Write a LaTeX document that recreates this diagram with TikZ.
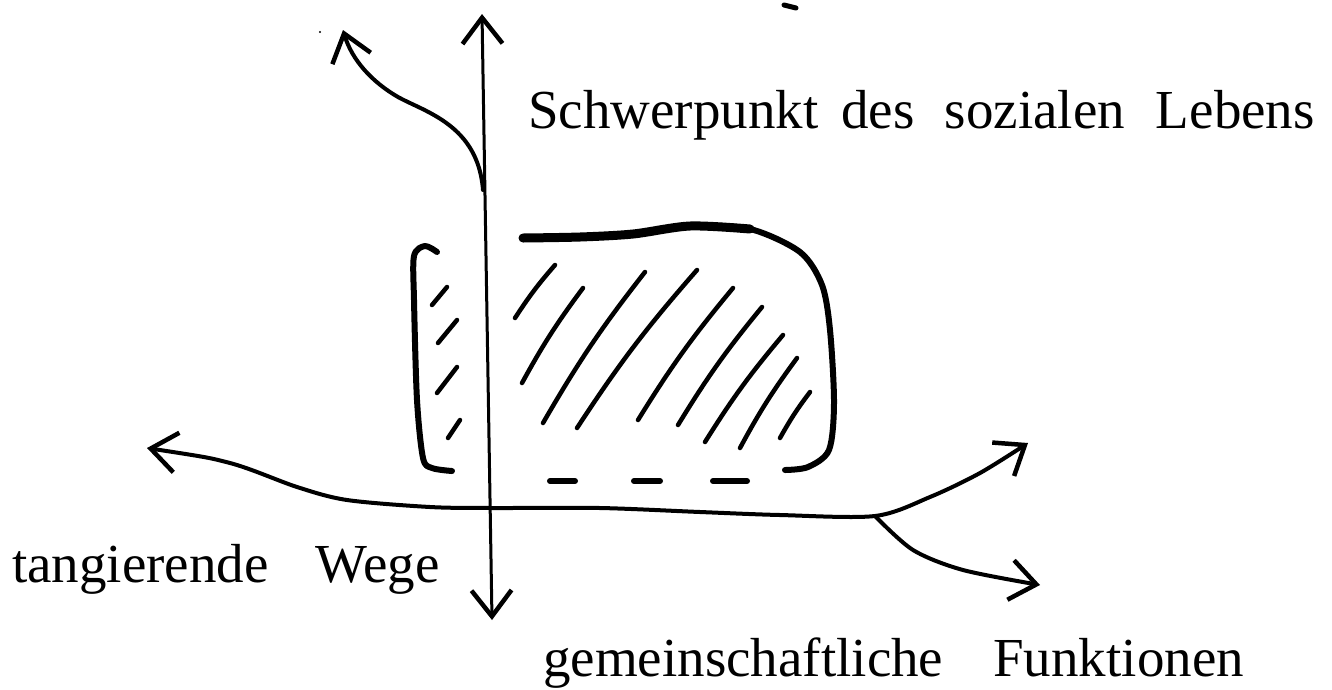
\documentclass[tikz,border=0pt]{standalone}
\usepackage{fontspec}
\setmainfont{Liberation Serif}
\usetikzlibrary{arrows.meta}

\begin{document}
\begin{tikzpicture}[x=1pt,y=-1pt,
    pen/.style={line width=4pt, line cap=round, line join=round},
    barb/.style={-{Straight Barb[length=26pt,width=40pt,line width=4.5pt]}},
    twobarb/.style={{Straight Barb[length=26pt,width=40pt,line width=4.5pt]}-{Straight Barb[length=26pt,width=40pt,line width=4.5pt]}},
    rim/.style={line width=6pt, line cap=round, line join=round},
    hatch/.style={line width=4.5pt, line cap=round},
    word/.style={anchor=base west, inner sep=0pt, font=\fontsize{55}{60}\selectfont}]
    \useasboundingbox (0,0) rectangle (1332,689);

    % axes and ways
    \coordinate (top) at (482,14);
    \coordinate (bottom) at (492,620);
    \coordinate (fork) at (483,190);
    \coordinate (upleft) at (343,30);
    \coordinate (west) at (147,448);
    \coordinate (split) at (875,516);
    \coordinate (east) at (1028,443);
    \coordinate (southeast) at (1040,585);

    \draw[pen, line width=3pt, twobarb] (bottom) -- (top);
    \draw[pen, barb] (fork) .. controls (478,125) and (425,112) .. (398,97)
                            .. controls (372,82) and (352,60) .. (upleft);
    \draw[pen, twobarb]
        plot[smooth] coordinates {(west) (230,463) (297,487) (347,500) (430,507) (492,508)
                                  (600,508) (700,512) (780,515) (split) (930,497) (980,473) (east)};
    \draw[pen, barb] plot[smooth] coordinates {(split) (913,550) (963,570) (southeast)};

    % the hatched field
    \draw[rim] plot[smooth] coordinates {(437,252) (425,246) (414,256) (414,300) (417,400) (423,458) (432,468) (452,471)};
    \draw[rim] plot[smooth] coordinates {(523,238) (580,237) (633,234) (690,226) (750,229) (800,252)
                                  (822,285) (830,330) (834,403) (829,450) (808,467) (785,470)};
    \draw[rim, line width=9pt] plot[smooth] coordinates {(523,238) (580,237) (633,234) (690,226) (750,229)};
    \foreach \a/\b in {550/575, 634/660, 713/747}
        \draw[rim] (\a,481) -- (\b,481);

    \foreach \xa/\ya/\xb/\yb in {432/305/447/287, 438/343/457/320, 437/393/457/367, 448/438/460/420}
        \draw[hatch] (\xa,\ya) -- (\xb,\yb);
    \foreach \xa/\ya/\xb/\yb in {515/318/555/265, 522/383/583/288, 543/423/645/272, 577/428/697/270,
                                 638/420/733/288, 678/425/762/307, 705/442/783/335, 740/448/797/358, 780/438/810/392}
        \draw[hatch] (\xa,\ya) to[bend left=4] (\xb,\yb);

    % stray marks
    \draw[line width=5pt, line cap=round] (784,5) -- (796,8);
    \fill (320,32) circle (1.2pt);

    % labels
    \node[word] (schwer) at (528,128) {Schwerpunkt\hspace{23pt}des\hspace{30pt}sozialen\hspace{31pt}Lebens};
    \node[word] (wege) at (12,582) {tangierende\hspace{47pt}Wege};
    \node[word] (funk) at (543,676) {gemeinschaftliche\hspace{50pt}Funktionen};
\end{tikzpicture}
\end{document}
